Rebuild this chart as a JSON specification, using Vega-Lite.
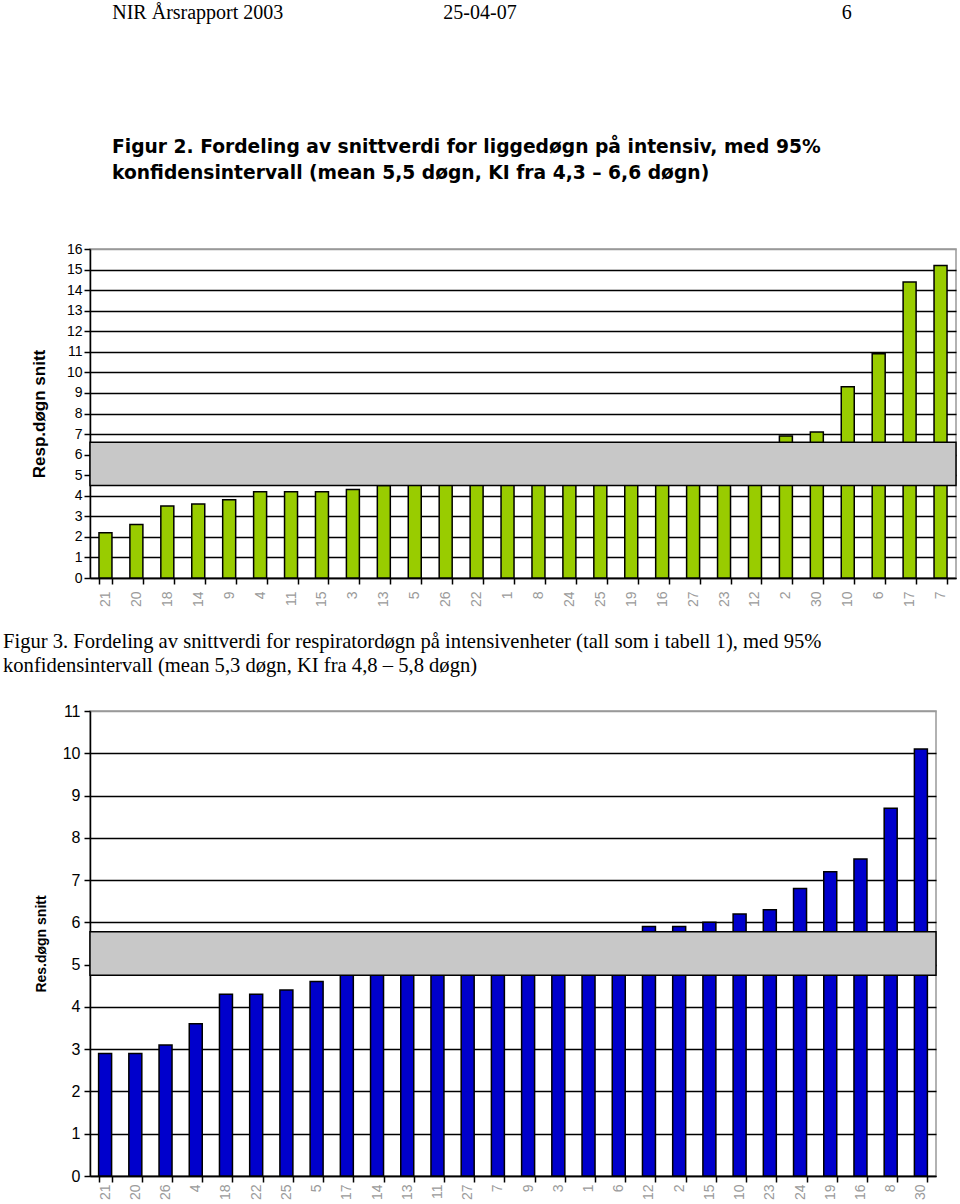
{
  "$schema": "https://vega.github.io/schema/vega-lite/v6.json",
  "padding": {"top": 2, "left": 2, "right": 0, "bottom": 0},
  "background": "white",
  "title": {
    "text": "NIR Årsrapport 2003\u00a0\u00a0\u00a0\u00a0\u00a0\u00a0\u00a0\u00a0\u00a0\u00a0\u00a0\u00a0\u00a0\u00a0\u00a0\u00a0\u00a0\u00a0\u00a0\u00a0\u00a0\u00a0\u00a0\u00a0\u00a0\u00a0\u00a0\u00a0\u00a0\u00a0\u00a0\u00a025-04-07\u00a0\u00a0\u00a0\u00a0\u00a0\u00a0\u00a0\u00a0\u00a0\u00a0\u00a0\u00a0\u00a0\u00a0\u00a0\u00a0\u00a0\u00a0\u00a0\u00a0\u00a0\u00a0\u00a0\u00a0\u00a0\u00a0\u00a0\u00a0\u00a0\u00a0\u00a0\u00a0\u00a0\u00a0\u00a0\u00a0\u00a0\u00a0\u00a0\u00a0\u00a0\u00a0\u00a0\u00a0\u00a0\u00a0\u00a0\u00a0\u00a0\u00a0\u00a0\u00a0\u00a0\u00a0\u00a0\u00a0\u00a0\u00a0\u00a0\u00a0\u00a0\u00a0\u00a0\u00a0\u00a06",
    "font": "Liberation Serif",
    "fontSize": 20,
    "fontWeight": "normal",
    "color": "black",
    "anchor": "start",
    "frame": "bounds",
    "dx": 110,
    "offset": 115
  },
  "spacing": 23,
  "config": {
    "view": {"stroke": "#999999", "strokeWidth": 1.5},
    "axis": {
      "domainColor": "black",
      "domainWidth": 1.5,
      "tickColor": "black",
      "tickWidth": 1.5,
      "tickSize": 6,
      "labelFont": "Liberation Sans",
      "titleFont": "Liberation Sans",
      "labelColor": "black",
      "titleColor": "black",
      "labelOverlap": false
    }
  },
  "datasets": {
    "ligge": [
      {"enhet": "21", "snitt": 2.2},
      {"enhet": "20", "snitt": 2.6},
      {"enhet": "18", "snitt": 3.5},
      {"enhet": "14", "snitt": 3.6},
      {"enhet": "9", "snitt": 3.8},
      {"enhet": "4", "snitt": 4.2},
      {"enhet": "11", "snitt": 4.2},
      {"enhet": "15", "snitt": 4.2},
      {"enhet": "3", "snitt": 4.3},
      {"enhet": "13", "snitt": 4.5},
      {"enhet": "5", "snitt": 4.6},
      {"enhet": "26", "snitt": 4.8},
      {"enhet": "22", "snitt": 5.0},
      {"enhet": "1", "snitt": 5.1},
      {"enhet": "8", "snitt": 5.3},
      {"enhet": "24", "snitt": 5.4},
      {"enhet": "25", "snitt": 5.5},
      {"enhet": "19", "snitt": 5.7},
      {"enhet": "16", "snitt": 5.9},
      {"enhet": "27", "snitt": 6.1},
      {"enhet": "23", "snitt": 6.3},
      {"enhet": "12", "snitt": 6.5},
      {"enhet": "2", "snitt": 6.9},
      {"enhet": "30", "snitt": 7.1},
      {"enhet": "10", "snitt": 9.3},
      {"enhet": "6", "snitt": 10.9},
      {"enhet": "17", "snitt": 14.4},
      {"enhet": "7", "snitt": 15.2}
    ],
    "resp": [
      {"enhet": "21", "snitt": 2.9},
      {"enhet": "20", "snitt": 2.9},
      {"enhet": "26", "snitt": 3.1},
      {"enhet": "4", "snitt": 3.6},
      {"enhet": "18", "snitt": 4.3},
      {"enhet": "22", "snitt": 4.3},
      {"enhet": "25", "snitt": 4.4},
      {"enhet": "5", "snitt": 4.6},
      {"enhet": "17", "snitt": 4.8},
      {"enhet": "14", "snitt": 4.9},
      {"enhet": "13", "snitt": 5.0},
      {"enhet": "11", "snitt": 5.1},
      {"enhet": "27", "snitt": 5.2},
      {"enhet": "7", "snitt": 5.3},
      {"enhet": "9", "snitt": 5.4},
      {"enhet": "3", "snitt": 5.5},
      {"enhet": "1", "snitt": 5.6},
      {"enhet": "6", "snitt": 5.7},
      {"enhet": "12", "snitt": 5.9},
      {"enhet": "2", "snitt": 5.9},
      {"enhet": "15", "snitt": 6.0},
      {"enhet": "10", "snitt": 6.2},
      {"enhet": "23", "snitt": 6.3},
      {"enhet": "24", "snitt": 6.8},
      {"enhet": "19", "snitt": 7.2},
      {"enhet": "16", "snitt": 7.5},
      {"enhet": "8", "snitt": 8.7},
      {"enhet": "30", "snitt": 10.1}
    ],
    "ki_ligge": [{"lav": 4.5, "hoy": 6.6}],
    "ki_resp": [{"lav": 4.75, "hoy": 5.78}]
  },
  "vconcat": [
    {
      "width": 866,
      "height": 329,
      "title": {
        "text": ["Figur 2. Fordeling av snittverdi for liggedøgn på intensiv, med 95%", "konfidensintervall (mean 5,5 døgn, KI fra 4,3 – 6,6 døgn)"],
        "font": "DejaVu Sans",
        "fontSize": 18.7,
        "fontWeight": "bold",
        "color": "black",
        "anchor": "start",
        "frame": "group",
        "dx": 22,
        "lineHeight": 26,
        "offset": 59
      },
      "layer": [
        {
          "data": {"name": "ligge"},
          "mark": {"type": "bar", "fill": "#99CC00", "stroke": "black", "strokeWidth": 1.5},
          "encoding": {
            "x": {
              "field": "enhet", "type": "nominal", "sort": null,
              "scale": {"paddingInner": 0.58, "paddingOuter": 0.29},
              "axis": {"title": null, "labelAngle": 270, "labelColor": "#9a9a9a", "labelFontSize": 14, "labelPadding": 7, "tickBand": "extent", "labelBaseline": "middle", "labelAlign": "right"}
            },
            "y": {
              "field": "snitt", "type": "quantitative",
              "scale": {"domain": [0, 16], "nice": false},
              "axis": {
                "title": "Resp.døgn snitt", "titleFontSize": 17, "titleFontWeight": "bold", "titlePadding": 18,
                "values": [0,1,2,3,4,5,6,7,8,9,10,11,12,13,14,15,16],
                "labelFontSize": 14, "labelPadding": 2, "labelOverlap": false,
                "grid": true, "gridWidth": 1.5,
                "gridColor": {"condition": {"test": "datum.value == 16", "value": "#999999"}, "value": "black"}
              }
            }
          }
        },
        {
          "data": {"name": "ki_ligge"},
          "mark": {"type": "rect", "fill": "#C8C8C8", "stroke": "black", "strokeWidth": 1.5},
          "encoding": {
            "y": {
              "field": "lav", "type": "quantitative",
              "axis": {
                "title": "Resp.døgn snitt", "titleFontSize": 17, "titleFontWeight": "bold", "titlePadding": 18,
                "values": [0,1,2,3,4,5,6,7,8,9,10,11,12,13,14,15,16],
                "labelFontSize": 14, "labelPadding": 2, "labelOverlap": false,
                "grid": true, "gridWidth": 1.5,
                "gridColor": {"condition": {"test": "datum.value == 16", "value": "#999999"}, "value": "black"}
              }
            },
            "y2": {"field": "hoy"}
          }
        }
      ]
    },
    {
      "width": 846,
      "height": 465,
      "title": {
        "text": ["Figur 3. Fordeling av snittverdi for respiratordøgn på intensivenheter (tall som i tabell 1), med 95%", "konfidensintervall (mean 5,3 døgn, KI fra 4,8 – 5,8 døgn)"],
        "font": "Liberation Serif",
        "fontSize": 20.6,
        "fontWeight": "normal",
        "color": "black",
        "anchor": "start",
        "frame": "group",
        "dx": -87,
        "lineHeight": 24,
        "offset": 26
      },
      "layer": [
        {
          "data": {"name": "resp"},
          "mark": {"type": "bar", "fill": "#0000CC", "stroke": "black", "strokeWidth": 1.5},
          "encoding": {
            "x": {
              "field": "enhet", "type": "nominal", "sort": null,
              "scale": {"paddingInner": 0.57, "paddingOuter": 0.285},
              "axis": {"title": null, "labelAngle": 270, "labelColor": "#9a9a9a", "labelFontSize": 14, "labelPadding": 2, "tickBand": "extent", "labelBaseline": "middle", "labelAlign": "right"}
            },
            "y": {
              "field": "snitt", "type": "quantitative",
              "scale": {"domain": [0, 11], "nice": false},
              "axis": {
                "title": "Res.døgn snitt", "titleFontSize": 14, "titleFontWeight": "bold", "titlePadding": 14,
                "values": [0,1,2,3,4,5,6,7,8,9,10,11],
                "labelFontSize": 16, "labelPadding": 4,
                "grid": true, "gridWidth": 1.5,
                "gridColor": {"condition": {"test": "datum.value == 11", "value": "#999999"}, "value": "black"}
              }
            }
          }
        },
        {
          "data": {"name": "ki_resp"},
          "mark": {"type": "rect", "fill": "#C8C8C8", "stroke": "black", "strokeWidth": 1.5},
          "encoding": {
            "y": {
              "field": "lav", "type": "quantitative",
              "axis": {
                "title": "Res.døgn snitt", "titleFontSize": 14, "titleFontWeight": "bold", "titlePadding": 14,
                "values": [0,1,2,3,4,5,6,7,8,9,10,11],
                "labelFontSize": 16, "labelPadding": 4,
                "grid": true, "gridWidth": 1.5,
                "gridColor": {"condition": {"test": "datum.value == 11", "value": "#999999"}, "value": "black"}
              }
            },
            "y2": {"field": "hoy"}
          }
        }
      ]
    }
  ]
}
